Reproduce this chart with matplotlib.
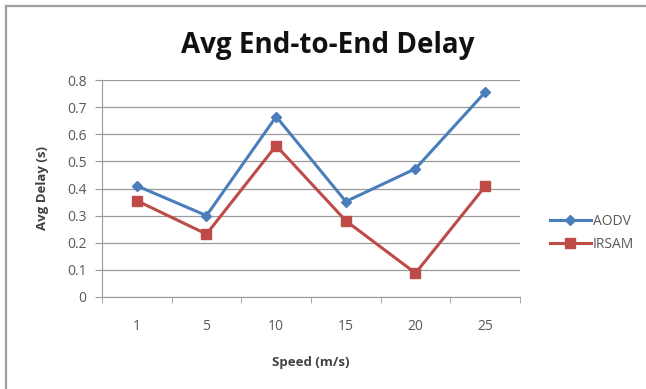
import matplotlib
matplotlib.use("Agg")
import matplotlib.pyplot as plt
from matplotlib.lines import Line2D
import numpy as np

speeds = ["1", "5", "10", "15", "20", "25"]
aodv = [0.41, 0.30, 0.665, 0.352, 0.473, 0.755]
irsam = [0.355, 0.232, 0.558, 0.281, 0.088, 0.408]
y_ticks = [0, 0.1, 0.2, 0.3, 0.4, 0.5, 0.6, 0.7, 0.8]
y_tick_labels = ["0", "0.1", "0.2", "0.3", "0.4", "0.5", "0.6", "0.7", "0.8"]

W, H = 646, 389
fig = plt.figure(figsize=(W / 100, H / 100), dpi=100)
fig.patch.set_facecolor("white")

# chart-area border (top and left edges)
fig.lines.append(Line2D([6 / W, 1.0], [1 - 6 / H, 1 - 6 / H], transform=fig.transFigure,
                        color="#a0a0a0", linewidth=1.6))
fig.lines.append(Line2D([6 / W, 6 / W], [0.0, 1 - 6 / H], transform=fig.transFigure,
                        color="#a0a0a0", linewidth=1.6))

left, right, top, bottom = 102, 520, 80, 297
ax = fig.add_axes([left / W, 1 - bottom / H, (right - left) / W, (bottom - top) / H])

x = np.arange(len(speeds))
ax.plot(x, aodv, color="#4A7EBB", linewidth=2.2, marker="D", markersize=5,
        markerfacecolor="#4A7EBB", markeredgecolor="#4A7EBB", label="AODV", zorder=3)
ax.plot(x, irsam, color="#BE4B48", linewidth=2.2, marker="s", markersize=7,
        markerfacecolor="#BE4B48", markeredgecolor="#BE4B48", label="IRSAM", zorder=3)

ax.set_xlim(-0.5, len(speeds) - 0.5)
ax.set_ylim(0, 0.8)
ax.set_yticks(y_ticks)
ax.set_yticklabels(y_tick_labels)
ax.set_xticks(x)
ax.set_xticklabels(speeds)
ax.set_xticks(np.arange(-0.5, len(speeds)), minor=True)

ax.grid(axis="y", color="#9a9a9a", linewidth=0.9)
ax.set_axisbelow(True)
for s in ["top", "right"]:
    ax.spines[s].set_visible(False)
ax.spines["left"].set_color("#9a9a9a")
ax.spines["bottom"].set_color("#9a9a9a")

font = "Open Sans"
ax.tick_params(axis="y", length=5, color="#9a9a9a", labelsize=10, labelcolor="#595959", pad=6)
ax.tick_params(axis="x", which="major", length=0, labelsize=10, labelcolor="#595959", pad=16)
ax.tick_params(axis="x", which="minor", length=4, color="#9a9a9a")
for lab in ax.get_xticklabels() + ax.get_yticklabels():
    lab.set_fontfamily(font)

ax.set_xlabel("Speed (m/s)", fontsize=9.5, fontweight="bold", color="#404040",
              fontfamily=font, labelpad=16)
ax.set_ylabel("Avg Delay (s)", fontsize=9.5, fontweight="bold", color="#404040",
              fontfamily=font, labelpad=13)

fig.text(328 / W, 1 - 53 / H, "Avg End-to-End Delay", ha="center", va="baseline",
         fontsize=20, fontweight="bold", fontfamily=font, color="#111111")

leg = ax.legend(loc="center left", bbox_to_anchor=(537 / W, 1 - 233 / H),
                bbox_transform=fig.transFigure, frameon=False,
                prop={"family": font, "size": 10}, handlelength=3.0,
                handletextpad=0.1, labelspacing=0.55)
for t in leg.get_texts():
    t.set_color("#595959")

fig.savefig("out.png", dpi=100, facecolor="white")
